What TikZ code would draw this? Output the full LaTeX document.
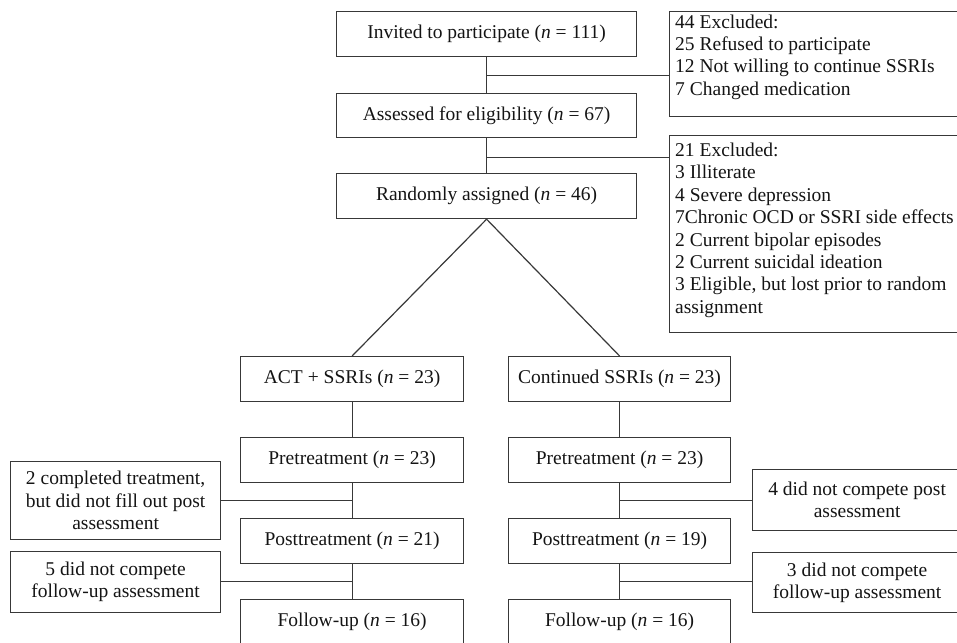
\documentclass[tikz,border=0pt]{standalone}
\usepackage{fontspec}
\setmainfont{Liberation Serif}
\usetikzlibrary{calc}
\begin{document}
\begin{tikzpicture}[x=1pt,y=-1pt,
  box/.style={draw=black!78, line width=1.2pt, inner sep=0pt, anchor=north west, align=center, font=\fontsize{19.5}{22.4}\selectfont, text=black!92},
  txt/.style={inner sep=0pt, anchor=north west, align=left, font=\fontsize{19.5}{22.4}\selectfont, text=black!92},
  ln/.style={draw=black!78, line width=1.2pt}]
\useasboundingbox (0,0) rectangle (957,642);
\clip (0,0) rectangle (957,642);
% main column
\node[box, minimum width=300pt, minimum height=45pt] (inv) at (336,11) {Invited to participate (\textit{n} = 111)};
\node[box, minimum width=300pt, minimum height=44pt] (ass) at (336,93) {Assessed for eligibility (\textit{n} = 67)};
\node[box, minimum width=300pt, minimum height=45pt] (ran) at (336,173) {Randomly assigned (\textit{n} = 46)};
% exclusion boxes
\node[box, minimum width=292pt, minimum height=105pt] (ex1) at (669,11) {};
\node[txt] (ex1t) at ($(ex1.north west)+(6,3.4)$) {44 Excluded:\\25 Refused to participate\\12 Not willing to continue SSRIs\\7 Changed medication};
\node[box, minimum width=292pt, minimum height=197pt] (ex2) at (669,135) {};
\node[txt] (ex2t) at ($(ex2.north west)+(6,7.7)$) {21 Excluded:\\3 Illiterate\\4 Severe depression\\7Chronic OCD or SSRI side effects\\2 Current bipolar episodes\\2 Current suicidal ideation\\3 Eligible, but lost prior to random\\assignment};
% arms
\node[box, minimum width=223pt, minimum height=45pt] (act) at (240,356) {ACT + SSRIs (\textit{n} = 23)};
\node[box, minimum width=222pt, minimum height=45pt] (con) at (508,356) {Continued SSRIs (\textit{n} = 23)};
\node[box, minimum width=223pt, minimum height=45pt] (preL) at (240,437) {Pretreatment (\textit{n} = 23)};
\node[box, minimum width=222pt, minimum height=45pt] (preR) at (508,437) {Pretreatment (\textit{n} = 23)};
\node[box, minimum width=223pt, minimum height=45pt] (postL) at (240,518) {Posttreatment (\textit{n} = 21)};
\node[box, minimum width=222pt, minimum height=45pt] (postR) at (508,518) {Posttreatment (\textit{n} = 19)};
\node[box, minimum width=223pt, minimum height=45pt] (fuL) at (240,599) {Follow-up (\textit{n} = 16)};
\node[box, minimum width=222pt, minimum height=45pt] (fuR) at (508,599) {Follow-up (\textit{n} = 16)};
% side boxes
\node[box, minimum width=210pt, minimum height=78pt] (lb1) at (10,461) {2 completed treatment,\\but did not fill out post\\assessment};
\node[box, minimum width=210pt, minimum height=61pt] (lb2) at (10,551) {5 did not compete\\follow-up assessment};
\node[box, minimum width=209pt, minimum height=61pt] (rb1) at (752,469) {4 did not compete post\\assessment};
\node[box, minimum width=209pt, minimum height=60pt] (rb2) at (752,552) {3 did not compete\\follow-up assessment};
% connectors
\draw[ln] (inv.south) -- (ass.north);
\draw[ln] (ass.south) -- (ran.north);
\coordinate (b1) at ($(inv.south)!0.5!(ass.north)$);
\coordinate (b2) at ($(ass.south)!0.55!(ran.north)$);
\draw[ln] (b1) -- (b1 -| ex1.west);
\draw[ln] (b2) -- (b2 -| ex2.west);
\draw[ln] (ran.south) -- (act.north);
\draw[ln] (ran.south) -- (con.north);
\draw[ln] (act.south) -- (preL.north);
\draw[ln] (preL.south) -- (postL.north);
\draw[ln] (postL.south) -- (fuL.north);
\draw[ln] (con.south) -- (preR.north);
\draw[ln] (preR.south) -- (postR.north);
\draw[ln] (postR.south) -- (fuR.north);
\coordinate (l1) at ($(preL.south)!0.5!(postL.north)$);
\coordinate (l2) at ($(postL.south)!0.5!(fuL.north)$);
\coordinate (r1) at ($(preR.south)!0.5!(postR.north)$);
\coordinate (r2) at ($(postR.south)!0.5!(fuR.north)$);
\draw[ln] (l1) -- (l1 -| lb1.east);
\draw[ln] (l2) -- (l2 -| lb2.east);
\draw[ln] (r1) -- (r1 -| rb1.west);
\draw[ln] (r2) -- (r2 -| rb2.west);
\end{tikzpicture}
\end{document}
